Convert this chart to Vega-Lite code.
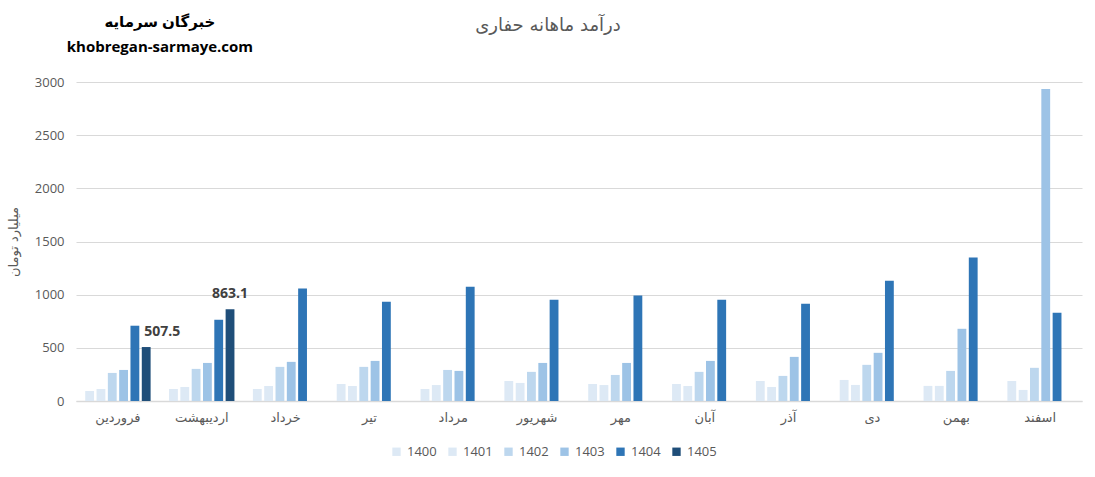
{
  "$schema": "https://vega.github.io/schema/vega-lite/v6.json",
  "width": 1006,
  "height": 319,
  "autosize": {"type": "none"},
  "padding": {"left": 76, "top": 82, "right": 13, "bottom": 76},
  "background": "white",
  "title": {"text": "درآمد ماهانه حفاری", "anchor": "middle", "dx": -31, "offset": -20, "fontSize": 18, "fontWeight": "normal", "color": "#595959", "font": "DejaVu Sans"},
  "config": {"view": {"stroke": null}, "font": "Open Sans, DejaVu Sans"},
  "datasets": {
    "revenue": [
      {"month": "فروردین", "year": "1400", "value": 94},
      {"month": "فروردین", "year": "1401", "value": 113},
      {"month": "فروردین", "year": "1402", "value": 264},
      {"month": "فروردین", "year": "1403", "value": 292},
      {"month": "فروردین", "year": "1404", "value": 708},
      {"month": "فروردین", "year": "1405", "value": 507.5},
      {"month": "اردیبهشت", "year": "1400", "value": 113},
      {"month": "اردیبهشت", "year": "1401", "value": 132},
      {"month": "اردیبهشت", "year": "1402", "value": 302},
      {"month": "اردیبهشت", "year": "1403", "value": 358},
      {"month": "اردیبهشت", "year": "1404", "value": 764},
      {"month": "اردیبهشت", "year": "1405", "value": 863.1},
      {"month": "خرداد", "year": "1400", "value": 113},
      {"month": "خرداد", "year": "1401", "value": 141},
      {"month": "خرداد", "year": "1402", "value": 321},
      {"month": "خرداد", "year": "1403", "value": 368},
      {"month": "خرداد", "year": "1404", "value": 1057},
      {"month": "تیر", "year": "1400", "value": 160},
      {"month": "تیر", "year": "1401", "value": 141},
      {"month": "تیر", "year": "1402", "value": 321},
      {"month": "تیر", "year": "1403", "value": 377},
      {"month": "تیر", "year": "1404", "value": 934},
      {"month": "مرداد", "year": "1400", "value": 113},
      {"month": "مرداد", "year": "1401", "value": 150},
      {"month": "مرداد", "year": "1402", "value": 292},
      {"month": "مرداد", "year": "1403", "value": 283},
      {"month": "مرداد", "year": "1404", "value": 1075},
      {"month": "شهریور", "year": "1400", "value": 188},
      {"month": "شهریور", "year": "1401", "value": 170},
      {"month": "شهریور", "year": "1402", "value": 274},
      {"month": "شهریور", "year": "1403", "value": 358},
      {"month": "شهریور", "year": "1404", "value": 953},
      {"month": "مهر", "year": "1400", "value": 160},
      {"month": "مهر", "year": "1401", "value": 150},
      {"month": "مهر", "year": "1402", "value": 245},
      {"month": "مهر", "year": "1403", "value": 358},
      {"month": "مهر", "year": "1404", "value": 991},
      {"month": "آبان", "year": "1400", "value": 160},
      {"month": "آبان", "year": "1401", "value": 141},
      {"month": "آبان", "year": "1402", "value": 274},
      {"month": "آبان", "year": "1403", "value": 377},
      {"month": "آبان", "year": "1404", "value": 953},
      {"month": "آذر", "year": "1400", "value": 188},
      {"month": "آذر", "year": "1401", "value": 132},
      {"month": "آذر", "year": "1402", "value": 236},
      {"month": "آذر", "year": "1403", "value": 415},
      {"month": "آذر", "year": "1404", "value": 915},
      {"month": "دی", "year": "1400", "value": 198},
      {"month": "دی", "year": "1401", "value": 151},
      {"month": "دی", "year": "1402", "value": 340},
      {"month": "دی", "year": "1403", "value": 453},
      {"month": "دی", "year": "1404", "value": 1132},
      {"month": "بهمن", "year": "1400", "value": 142},
      {"month": "بهمن", "year": "1401", "value": 142},
      {"month": "بهمن", "year": "1402", "value": 283},
      {"month": "بهمن", "year": "1403", "value": 679},
      {"month": "بهمن", "year": "1404", "value": 1349},
      {"month": "اسفند", "year": "1400", "value": 188},
      {"month": "اسفند", "year": "1401", "value": 104},
      {"month": "اسفند", "year": "1402", "value": 312},
      {"month": "اسفند", "year": "1403", "value": 2934},
      {"month": "اسفند", "year": "1404", "value": 830}
    ],
    "watermark": [
      {"line": "خبرگان سرمایه", "level": 3565},
      {"line": "khobregan-sarmaye.com", "level": 3330}
    ]
  },
  "layer": [
    {
      "data": {"name": "revenue"},
      "mark": {"type": "bar"},
      "encoding": {
        "x": {
          "field": "month", "type": "nominal",
          "sort": ["فروردین", "اردیبهشت", "خرداد", "تیر", "مرداد", "شهریور", "مهر", "آبان", "آذر", "دی", "بهمن", "اسفند"],
          "scale": {"paddingInner": 0.22, "paddingOuter": 0.11},
          "axis": {"title": null, "labelAngle": 0, "labelFontSize": 13, "labelColor": "#595959", "labelFont": "DejaVu Sans", "labelPadding": 10, "ticks": false, "domainColor": "#d9d9d9", "domainWidth": 1.5}
        },
        "xOffset": {"field": "year", "type": "nominal", "scale": {"domain": ["1400", "1401", "1402", "1403", "1404", "1405"], "paddingInner": 0.22}},
        "y": {
          "field": "value", "type": "quantitative",
          "scale": {"domain": [0, 3000]},
          "axis": {"title": "میلیارد تومان", "titleFont": "DejaVu Sans", "titleFontSize": 13, "titleFontWeight": "normal", "titleColor": "#595959", "titlePadding": 14, "values": [0, 500, 1000, 1500, 2000, 2500, 3000], "format": "d", "labelFontSize": 13, "labelColor": "#595959", "labelPadding": 12, "ticks": false, "domain": false, "gridColor": "#d9d9d9", "gridWidth": 1}
        },
        "color": {
          "field": "year", "type": "nominal",
          "scale": {"domain": ["1400", "1401", "1402", "1403", "1404", "1405"], "range": ["#dde9f5", "#dde9f5", "#bdd7ee", "#9dc3e6", "#2e75b6", "#1f4e79"]},
          "legend": {"title": null, "orient": "none", "direction": "horizontal", "legendX": 314, "legendY": 363, "symbolType": "square", "symbolSize": 70, "symbolStrokeWidth": 0, "labelFontSize": 13, "labelColor": "#595959", "labelOffset": 4, "columnPadding": 9}
        }
      }
    },
    {
      "data": {"name": "revenue"},
      "transform": [{"filter": "datum.year == '1405' && datum.month == 'فروردین'"}],
      "mark": {"type": "text", "baseline": "bottom", "dy": -8, "dx": 16, "fontSize": 14, "fontWeight": "bold", "color": "#404040"},
      "encoding": {
        "x": {"field": "month", "type": "nominal", "sort": ["فروردین", "اردیبهشت", "خرداد", "تیر", "مرداد", "شهریور", "مهر", "آبان", "آذر", "دی", "بهمن", "اسفند"]},
        "xOffset": {"field": "year", "type": "nominal"},
        "y": {"field": "value", "type": "quantitative"},
        "text": {"field": "value", "type": "quantitative", "format": ".1f"}
      }
    },
    {
      "data": {"name": "revenue"},
      "transform": [{"filter": "datum.year == '1405' && datum.month != 'فروردین'"}],
      "mark": {"type": "text", "baseline": "bottom", "dy": -8, "fontSize": 14, "fontWeight": "bold", "color": "#404040"},
      "encoding": {
        "x": {"field": "month", "type": "nominal", "sort": ["فروردین", "اردیبهشت", "خرداد", "تیر", "مرداد", "شهریور", "مهر", "آبان", "آذر", "دی", "بهمن", "اسفند"]},
        "xOffset": {"field": "year", "type": "nominal"},
        "y": {"field": "value", "type": "quantitative"},
        "text": {"field": "value", "type": "quantitative", "format": ".1f"}
      }
    },
    {
      "data": {"name": "watermark"},
      "mark": {"type": "text", "baseline": "middle", "align": "center", "dx": 42, "fontSize": 15, "fontWeight": "bold", "color": "#000000"},
      "encoding": {
        "x": {"datum": "فروردین"},
        "y": {"field": "level", "type": "quantitative"},
        "text": {"field": "line", "type": "nominal"}
      }
    }
  ]
}
